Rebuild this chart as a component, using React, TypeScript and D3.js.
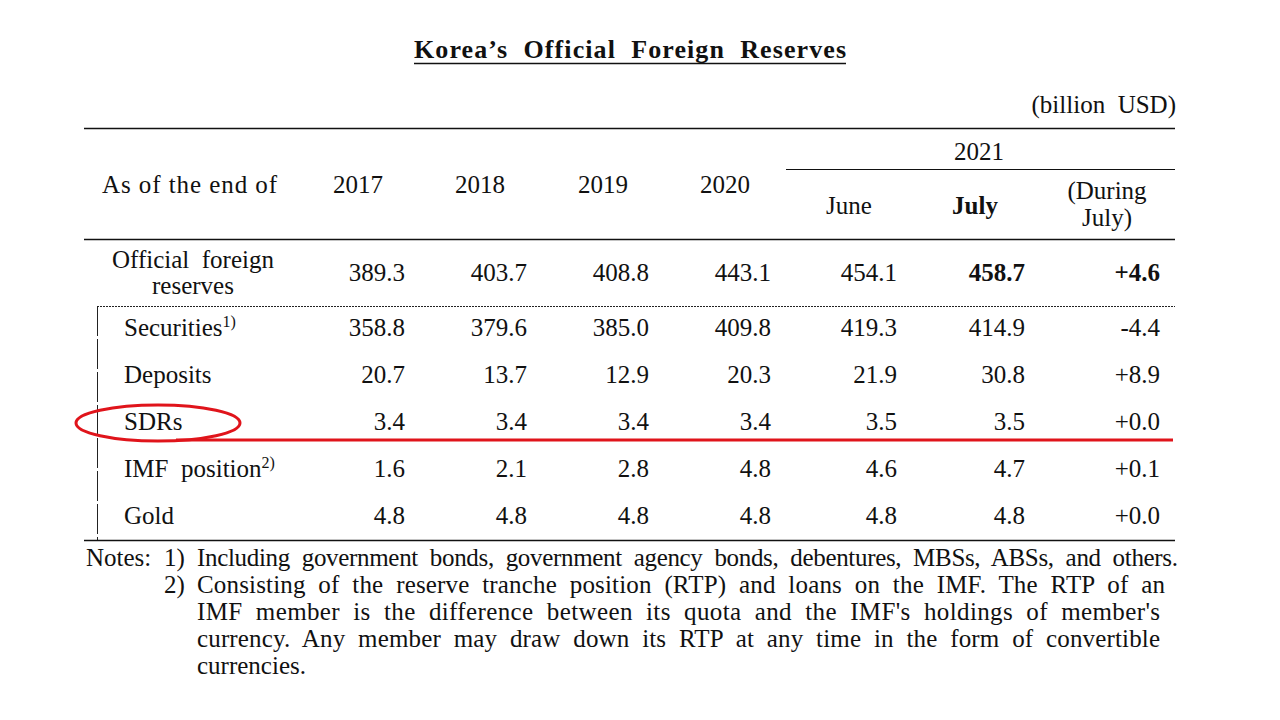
import React from "react";
import * as d3 from "d3";

const title = "Korea’s  Official  Foreign  Reserves";
const unitLabel = "(billion  USD)";
const yearHeaders = ["2017", "2018", "2019", "2020"];
const monthHeaders = ["June", "July"];
const changeHeader = ["(During", "July)"];
const groupHeader = "2021";
const stubHeader = "As of the end of";

const columns = ["2017", "2018", "2019", "2020", "June", "July", "Change"];
const totalLabel = ["Official  foreign", "reserves"];
const totalValues = ["389.3", "403.7", "408.8", "443.1", "454.1", "458.7", "+4.6"];

const rowLabels = ["Securities", "Deposits", "SDRs", "IMF  position", "Gold"];
const rowSup = ["1)", "", "", "2)", ""];
const securities = ["358.8", "379.6", "385.0", "409.8", "419.3", "414.9", "-4.4"];
const deposits = ["20.7", "13.7", "12.9", "20.3", "21.9", "30.8", "+8.9"];
const sdrs = ["3.4", "3.4", "3.4", "3.4", "3.5", "3.5", "+0.0"];
const imfPosition = ["1.6", "2.1", "2.8", "4.8", "4.6", "4.7", "+0.1"];
const gold = ["4.8", "4.8", "4.8", "4.8", "4.8", "4.8", "+0.0"];
const rowValues = [securities, deposits, sdrs, imfPosition, gold];

const notes = [
  { lead: "Notes:", num: "1)", text: "Including  government  bonds,  government  agency  bonds,  debentures,  MBSs,  ABSs,  and  others.", justify: true },
  { lead: "", num: "2)", text: "Consisting  of  the  reserve  tranche  position  (RTP)  and  loans  on  the  IMF.  The  RTP  of  an", justify: true },
  { lead: "", num: "", text: "IMF  member  is  the  difference  between  its  quota  and  the  IMF's  holdings  of  member's", justify: true },
  { lead: "", num: "", text: "currency.  Any  member  may  draw  down  its  RTP  at  any  time  in  the  form  of  convertible", justify: true },
  { lead: "", num: "", text: "currencies.", justify: false },
];

const FONT = "'Liberation Serif', 'Times New Roman', serif";

export default function App() {
  const W = 1280, H = 720;
  const colRight = d3.scaleOrdinal<string, number>().domain(columns).range([405, 527, 649, 771, 897, 1025, 1160]);
  const headCenter = d3.scaleOrdinal<string, number>().domain([...yearHeaders, ...monthHeaders]).range([358, 480, 603, 725, 849, 975]);
  const rowY = d3.scalePoint<string>().domain(rowLabels).range([336, 524]);
  const noteY = d3.scalePoint<number>().domain(d3.range(notes.length)).range([566, 674]);
  const fs = 25;
  const black = "#111";
  const red = "#e0141b";

  return (
    <svg width={W} height={H} style={{ position: "absolute", left: 0, top: 0, background: "#fff" }} fontFamily={FONT}>
      <rect width={W} height={H} fill="#fff" />
      {/* title */}
      <text x={414} y={58} fontSize={26} fontWeight="bold" fill={black} textLength={432} lengthAdjust="spacing" style={{ whiteSpace: "pre" }}>
        {title}
      </text>
      <line x1={414} x2={846} y1={63.5} y2={63.5} stroke={black} strokeWidth={1.5} />
      <text x={1176} y={113} fontSize={fs} textAnchor="end" fill={black} style={{ whiteSpace: "pre" }}>{unitLabel}</text>

      {/* rules */}
      <line x1={84} x2={1175} y1={128.5} y2={128.5} stroke={black} strokeWidth={1.3} />
      <line x1={786} x2={1175} y1={169.5} y2={169.5} stroke={black} strokeWidth={1.2} />
      <line x1={84} x2={1175} y1={239.5} y2={239.5} stroke={black} strokeWidth={1.3} />
      <line x1={97} x2={1175} y1={306.5} y2={306.5} stroke="#222" strokeWidth={1} strokeDasharray="2,1" />
      <line x1={97.5} x2={97.5} y1={306} y2={540} stroke="#222" strokeWidth={1} strokeDasharray="30,3" />
      <line x1={84} x2={1175} y1={540.5} y2={540.5} stroke={black} strokeWidth={1.3} />

      {/* header */}
      <text x={102} y={193} fontSize={fs} fill={black} textLength={175} lengthAdjust="spacing">{stubHeader}</text>
      {yearHeaders.map((h) => (
        <text key={h} x={headCenter(h)} y={193} fontSize={fs} textAnchor="middle" fill={black}>{h}</text>
      ))}
      <text x={979} y={160} fontSize={fs} textAnchor="middle" fill={black}>{groupHeader}</text>
      {monthHeaders.map((h, i) => (
        <text key={h} x={headCenter(h)} y={214} fontSize={fs} textAnchor="middle" fill={black} fontWeight={i === 1 ? "bold" : "normal"}>{h}</text>
      ))}
      <text x={1107} y={199} fontSize={fs} textAnchor="middle" fill={black}>{changeHeader[0]}</text>
      <text x={1107} y={226} fontSize={fs} textAnchor="middle" fill={black}>{changeHeader[1]}</text>

      {/* total row */}
      <text x={193} y={268} fontSize={fs} textAnchor="middle" fill={black} style={{ whiteSpace: "pre" }}>{totalLabel[0]}</text>
      <text x={193} y={294} fontSize={fs} textAnchor="middle" fill={black}>{totalLabel[1]}</text>
      {totalValues.map((v, i) => (
        <text key={i} x={colRight(columns[i])} y={281} fontSize={fs} textAnchor="end" fill={black} fontWeight={i >= 5 ? "bold" : "normal"}>{v}</text>
      ))}

      {/* sub rows */}
      {rowLabels.map((lab, r) => (
        <g key={lab}>
          <text x={124} y={rowY(lab)} fontSize={fs} fill={black} style={{ whiteSpace: "pre" }}>
            {lab}
            {rowSup[r] && <tspan fontSize={16} dy={-9}>{rowSup[r]}</tspan>}
          </text>
          {rowValues[r].map((v, i) => (
            <text key={i} x={colRight(columns[i])} y={rowY(lab)} fontSize={fs} textAnchor="end" fill={black}>{v}</text>
          ))}
        </g>
      ))}

      {/* red highlight */}
      <ellipse cx={158} cy={423} rx={82} ry={18} fill="none" stroke={red} strokeWidth={3} />
      <line x1={176} x2={1173} y1={440} y2={440} stroke={red} strokeWidth={3} />

      {/* notes */}
      {notes.map((n, i) => {
        const y = noteY(i)!;
        const textX = 197;
        const endX = i === 0 ? 1178 : i === 1 ? 1165 : 1160;
        return (
          <g key={i}>
            {n.lead && <text x={86} y={y} fontSize={fs} fill={black}>{n.lead}</text>}
            {n.num && <text x={164} y={y} fontSize={fs} fill={black}>{n.num}</text>}
            {n.justify ? (
              <text x={textX} y={y} fontSize={fs} fill={black} textLength={endX - textX} lengthAdjust="spacing" style={{ whiteSpace: "pre" }}>{n.text}</text>
            ) : (
              <text x={textX} y={y} fontSize={fs} fill={black}>{n.text}</text>
            )}
          </g>
        );
      })}
    </svg>
  );
}
